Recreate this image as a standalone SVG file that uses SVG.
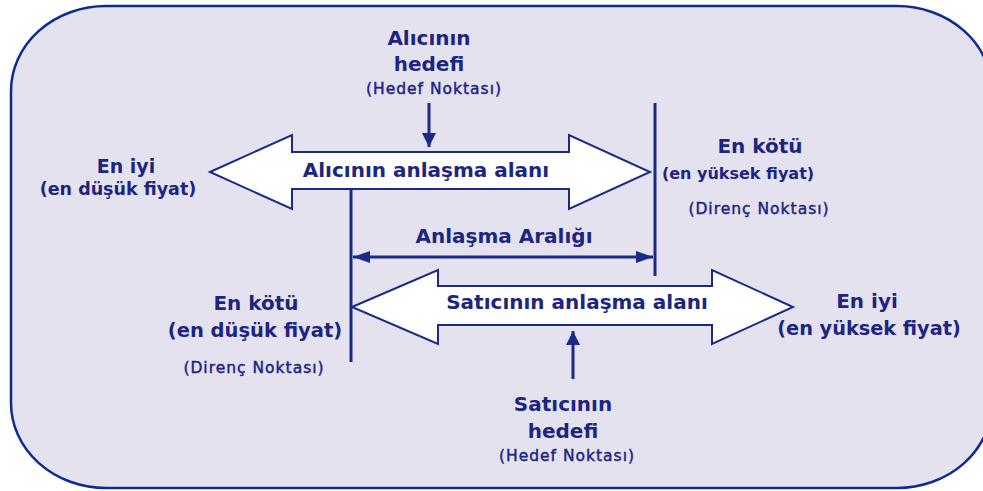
<svg xmlns="http://www.w3.org/2000/svg" width="983" height="491" viewBox="0 0 983 491">
  <style>
    .bg { fill: #e4e2ef; stroke: #0d2c92; stroke-width: 2.5; }
    .big { fill: #ffffff; stroke: #1a2a86; stroke-width: 2; stroke-linejoin: miter; }
    .ln { stroke: #1a2a86; stroke-width: 3; fill: none; }
    .t { font-family: "DejaVu Sans", Verdana, sans-serif; font-weight: bold; fill: #1c2580; text-anchor: middle; }
    .lg { font-size: 20px; }
    .md { font-size: 17.5px; }
    .sm { font-size: 15.5px; font-weight: normal; letter-spacing: 1px; stroke: #1c2580; stroke-width: 0.45px; }
  </style>
  <defs>
    <marker id="ah" viewBox="0 0 17 12" refX="17" refY="6" markerWidth="17" markerHeight="12" markerUnits="userSpaceOnUse" orient="auto-start-reverse">
      <path d="M0,0 L17,6 L0,12 Z" fill="#1a2a86"/>
    </marker>
    <marker id="vh" viewBox="0 0 14 14" refX="14" refY="7" markerWidth="14" markerHeight="14" markerUnits="userSpaceOnUse" orient="auto">
      <path d="M0,0 L14,7 L0,14 Z" fill="#1a2a86"/>
    </marker>
  </defs>

  <rect class="bg" x="11" y="6" width="981" height="482" rx="95" ry="85"/>

  <g id="alici-alani">
    <polygon class="big" points="210,172 292,135 292,152 569,152 569,135 650,172 569,209 569,189 292,189 292,209"/>
    <text class="t lg" x="426" y="177">Alıcının anlaşma alanı</text>
  </g>

  <g id="satici-alani">
    <polygon class="big" points="352,307 438,270 438,286 712,286 712,270 793,307 712,344 712,325 438,325 438,344"/>
    <text class="t lg" x="577" y="309">Satıcının anlaşma alanı</text>
  </g>

  <g id="alici-hedefi">
    <text class="t lg" x="429" y="45">Alıcının</text>
    <text class="t lg" x="429" y="71">hedefi</text>
    <text class="t sm" x="434" y="94">(Hedef Noktası)</text>
  </g>

  <g id="satici-hedefi">
    <text class="t lg" x="563" y="411">Satıcının</text>
    <text class="t lg" x="563" y="438">hedefi</text>
    <text class="t sm" x="567" y="461">(Hedef Noktası)</text>
  </g>

  <g id="alici-en-iyi">
    <text class="t" style="font-size:19px" x="126" y="173">En iyi</text>
    <text class="t md" x="118" y="195">(en düşük fiyat)</text>
  </g>

  <g id="alici-en-kotu">
    <text class="t lg" x="760" y="153">En kötü</text>
    <text class="t" style="font-size:16px" x="738" y="179">(en yüksek fiyat)</text>
    <text class="t sm" x="759" y="214">(Direnç Noktası)</text>
  </g>

  <g id="satici-en-kotu">
    <text class="t lg" x="256" y="310">En kötü</text>
    <text class="t" style="font-size:19.5px" x="255" y="337">(en düşük fiyat)</text>
    <text class="t sm" x="254" y="373">(Direnç Noktası)</text>
  </g>

  <g id="satici-en-iyi">
    <text class="t lg" x="867" y="308">En iyi</text>
    <text class="t" style="font-size:19.3px" x="869" y="335">(en yüksek fiyat)</text>
  </g>

  <g id="anlasma-araligi">
    <text class="t lg" x="504" y="243">Anlaşma Aralığı</text>
  </g>

  <g id="connectors">
    <line class="ln" x1="655" y1="103" x2="655" y2="276"/>
    <line class="ln" x1="351" y1="189" x2="351" y2="362"/>
    <line class="ln" x1="353" y1="257" x2="653" y2="257" marker-start="url(#ah)" marker-end="url(#ah)"/>
    <line class="ln" x1="429" y1="103" x2="429" y2="147" marker-end="url(#vh)"/>
    <line class="ln" x1="573" y1="379" x2="573" y2="331" marker-end="url(#vh)"/>
  </g>
</svg>
